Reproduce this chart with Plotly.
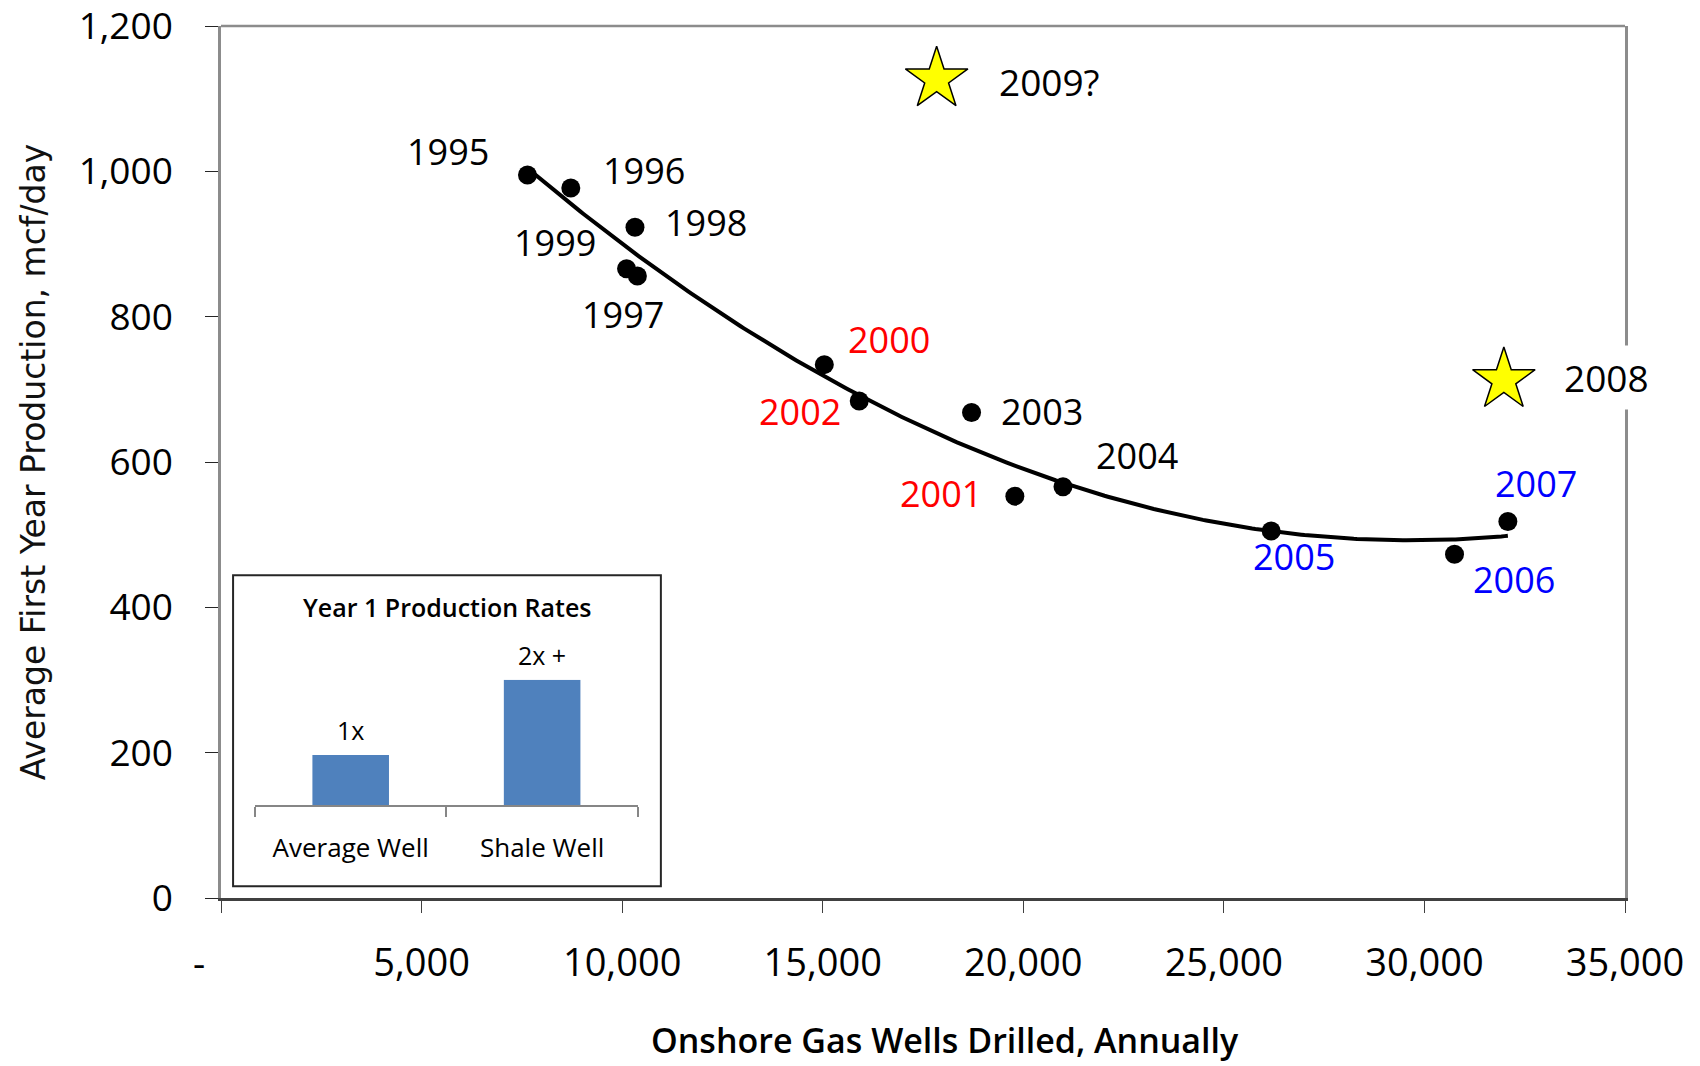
import numpy as np
import plotly.graph_objects as go

# ---------------- data ----------------
years = ["1995", "1996", "1997", "1998", "1999", "2000", "2001",
         "2002", "2003", "2004", "2005", "2006", "2007"]
wells_drilled = [7640, 8720, 10380, 10320, 10110, 15040, 19790,
                 15910, 18710, 20990, 26180, 30750, 32080]
first_year_prod = [995, 977, 856, 923, 866, 734, 553,
                   684, 668, 566, 505, 473, 518]
label_colors = ["#000000", "#000000", "#000000", "#000000", "#000000",
                "#FF0000", "#FF0000", "#FF0000", "#000000", "#000000",
                "#0000FF", "#0000FF", "#0000FF"]

star_years = ["2008", "2009?"]
star_wells = [31980, 17840]
star_prod = [713, 1127]

x_tick_vals = [0, 5000, 10000, 15000, 20000, 25000, 30000, 35000]
x_tick_text = ["", "5,000", "10,000", "15,000", "20,000", "25,000", "30,000", "35,000"]
y_tick_vals = [0, 200, 400, 600, 800, 1000, 1200]
y_tick_text = ["0", "200", "400", "600", "800", "1,000", "1,200"]

inset_categories = ["Average Well", "Shale Well"]
inset_values = [1.0, 2.5]
inset_labels = ["1x", "2x +"]

x_title = "Onshore Gas Wells Drilled, Annually"
y_title = "Average First Year Production, mcf/day"
inset_title = "Year 1 Production Rates"

# ---------------- label offsets (pixels) ----------------
label_offsets = {
    "1995": (-79, 20), "1996": (73, 15), "1997": (-14, -42), "1998": (71, 2),
    "1999": (-72, 23), "2000": (65, 22), "2001": (-74, 0), "2002": (-59, -14),
    "2003": (70, -2), "2004": (74, 28), "2005": (23, -28), "2006": (59, -28),
    "2007": (28, 35),
}
star_offsets = {"2008": (103, -1), "2009?": (113, -5)}

FONT = "Open Sans"

fig = go.Figure()

# polynomial (2nd order) trendline of the yearly points
coef = np.polyfit(wells_drilled, first_year_prod, 2)
xs = np.linspace(min(wells_drilled), max(wells_drilled), 300)
fig.add_trace(go.Scatter(x=xs, y=np.polyval(coef, xs), mode="lines",
                         line=dict(color="black", width=4),
                         hoverinfo="skip", showlegend=False))

fig.add_trace(go.Scatter(x=wells_drilled, y=first_year_prod, mode="markers",
                         marker=dict(color="black", size=19),
                         text=years, showlegend=False))

fig.add_trace(go.Scatter(x=star_wells, y=star_prod, mode="markers",
                         marker=dict(symbol="star", size=47, color="#FFFF00",
                                     line=dict(color="black", width=1.5)),
                         text=star_years, showlegend=False))

# inset bar chart
fig.add_trace(go.Bar(x=inset_categories, y=inset_values, xaxis="x2", yaxis="y2",
                     marker=dict(color="#4F81BD", line=dict(width=0)),
                     width=0.4, showlegend=False, hoverinfo="skip"))

annotations = []
for yr, xv, yv, col in zip(years, wells_drilled, first_year_prod, label_colors):
    dx, dy = label_offsets[yr]
    annotations.append(dict(x=xv, y=yv, xref="x", yref="y", text=yr, showarrow=False,
                            xshift=dx, yshift=dy + 3, xanchor="center", yanchor="middle",
                            font=dict(family=FONT, size=36, color=col)))
for yr, xv, yv in zip(star_years, star_wells, star_prod):
    dx, dy = star_offsets[yr]
    annotations.append(dict(x=xv, y=yv, xref="x", yref="y", text=yr, showarrow=False,
                            xshift=dx, yshift=dy + 3, xanchor="center", yanchor="middle",
                            bgcolor="white", borderpad=6,
                            font=dict(family=FONT, size=37, color="black")))
# zero tick label shown as a dash
annotations.append(dict(x=0, y=0, xref="x", yref="y", text="-", showarrow=False,
                        xshift=-22, yshift=-64, xanchor="center", yanchor="middle",
                        font=dict(family=FONT, size=38, color="black")))
# inset bar value labels
for cat, val, lab in zip(inset_categories, inset_values, inset_labels):
    annotations.append(dict(x=cat, y=val, xref="x2", yref="y2", text=lab, showarrow=False,
                            yshift=25, xanchor="center", yanchor="middle",
                            font=dict(family=FONT, size=25, color="black")))
# inset title
annotations.append(dict(x=0.1609, y=0.3335, xref="paper", yref="paper",
                        text=inset_title, showarrow=False,
                        xanchor="center", yanchor="middle",
                        font=dict(family=FONT, size=25, color="black", weight=600)))
# x-axis title (placed slightly right of centre, at the bottom edge, as in the original)
annotations.append(dict(x=0.516, y=-0.1923, xref="paper", yref="paper",
                        text=x_title, showarrow=False, yshift=1,
                        xanchor="center", yanchor="bottom",
                        font=dict(family=FONT, size=34, color="black", weight=600)))

shapes = [
    # inset frame
    dict(type="rect", xref="paper", yref="paper", x0=0.0086, x1=0.3133, y0=0.0135, y1=0.3701,
         line=dict(color="#262626", width=2), fillcolor="white", layer="below"),
    # top border
    dict(type="line", xref="paper", yref="paper", x0=0, x1=1, y0=1, y1=1,
         line=dict(color="#8c8c8c", width=2.5)),
]

fig.update_layout(
    width=1700, height=1066,
    margin=dict(l=221, r=75, t=26, b=168, pad=0, autoexpand=False),
    paper_bgcolor="white", plot_bgcolor="white",
    font=dict(family=FONT, color="black"),
    showlegend=False,
    annotations=annotations,
    shapes=shapes,
    bargap=0.6,
    xaxis=dict(
        range=[0, 35000], tickvals=x_tick_vals, ticktext=x_tick_text,
        showgrid=False, zeroline=False, automargin=False,
        showline=True, linecolor="#404040", linewidth=2.5,
        ticks="outside", ticklen=12, tickwidth=1.2, tickcolor="#404040",
        tickfont=dict(family=FONT, size=38, color="black"),
        ticklabelstandoff=18, ticklabeloverflow="allow",
    ),
    yaxis=dict(
        range=[0, 1200], tickvals=y_tick_vals, ticktext=y_tick_text,
        showgrid=False, zeroline=False, automargin=False,
        showline=True, linecolor="#8c8c8c", linewidth=2.5, mirror=True,
        ticks="outside", ticklen=13, tickwidth=1.2, tickcolor="#262626",
        tickfont=dict(family=FONT, size=37, color="black"),
        ticklabelstandoff=25, ticklabeloverflow="allow",
        title=dict(text=y_title,
                   font=dict(family="DejaVu Sans", size=33, color="#111111"), standoff=24),
    ),
    xaxis2=dict(
        domain=[0.0242, 0.2969], anchor="y2",
        showgrid=False, zeroline=False, automargin=False,
        showline=True, linecolor="#868686", linewidth=1.5,
        ticks="outside", tickson="boundaries", ticklen=10, tickwidth=1.5, tickcolor="#868686",
        tickfont=dict(family=FONT, size=26, color="black"),
        ticklabelstandoff=19,
    ),
    yaxis2=dict(
        domain=[0.1063, 0.2503], anchor="x2", range=[0, 2.5],
        visible=False, showgrid=False, zeroline=False, automargin=False,
    ),
)

fig.write_html("out.html", config={"displayModeBar": False},
               post_script="document.body.style.margin='0';")
